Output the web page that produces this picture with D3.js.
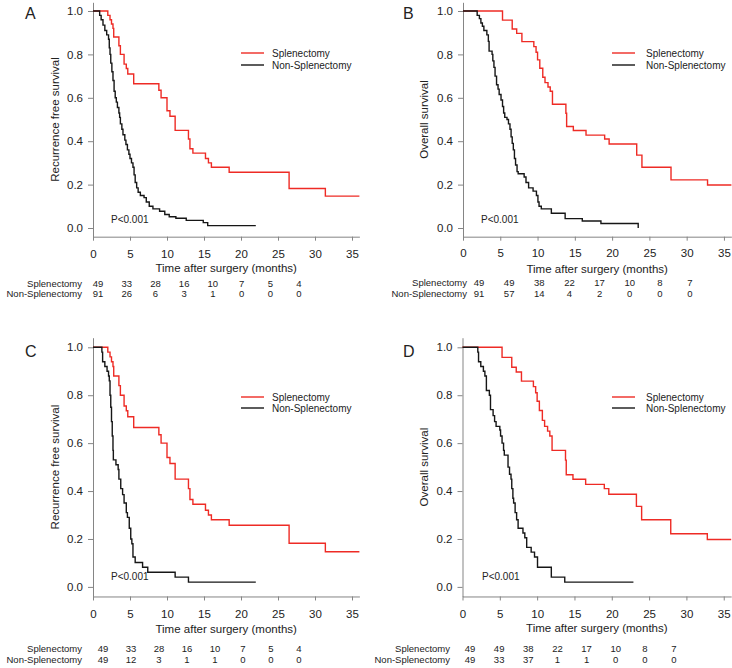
<!DOCTYPE html>
<html>
<head>
<meta charset="utf-8">
<script src="https://cdn.jsdelivr.net/npm/d3@7"></script>
<style>
  body { margin: 0; background: #fff; }
  svg text { font-family: "Liberation Sans", Arial, sans-serif; fill: #222; }
</style>
</head>
<body>
<svg id="chart" width="732" height="668"></svg>
<script>
// ---- data ----
var xTicks = [0, 5, 10, 15, 20, 25, 30, 35];
var yTicks = [0, 0.2, 0.4, 0.6, 0.8, 1.0];
var groups = ["Splenectomy", "Non-Splenectomy"];
var letters = ["A", "B", "C", "D"];
var yTitles = ["Recurrence free survival", "Overall survival", "Recurrence free survival", "Overall survival"];
var xTitle = "Time after surgery (months)";
var pText = "P<0.001";

// recurrence free survival, splenectomy (A and C)
var rfsSplenT = [2.0, 2.3, 2.5, 2.7, 2.8, 3.5, 3.7, 4.2, 4.5, 4.7, 5.5, 8.9, 9.2, 10.0, 10.4, 11.1, 12.9, 13.1, 13.5, 15.2, 15.6, 16.0, 18.4, 26.5, 31.4];
var rfsSplenS = [0.98, 0.96, 0.94, 0.92, 0.88, 0.84, 0.80, 0.755, 0.735, 0.71, 0.665, 0.635, 0.60, 0.54, 0.515, 0.45, 0.41, 0.365, 0.345, 0.32, 0.30, 0.28, 0.257, 0.182, 0.147];
var rfsSplenEnd = 36;

// recurrence free survival, non-splenectomy (A)
var rfsNonAT = [0.9, 1.1, 1.35, 1.6, 1.85, 2.1, 2.2, 2.3, 2.4, 2.55, 2.7, 2.85, 3.0, 3.15, 3.3, 3.5, 3.6, 3.7, 3.9, 4.05, 4.3, 4.45, 4.65, 4.85, 5.0, 5.2, 5.4, 5.55, 5.7, 5.9, 6.1, 6.4, 6.9, 7.2, 7.6, 8.1, 9.0, 9.7, 10.3, 11.2, 12.6, 14.9, 15.5];
var rfsNonAS = [0.98, 0.96, 0.935, 0.91, 0.89, 0.87, 0.83, 0.80, 0.76, 0.72, 0.68, 0.63, 0.60, 0.58, 0.555, 0.53, 0.51, 0.48, 0.455, 0.43, 0.405, 0.385, 0.36, 0.34, 0.32, 0.30, 0.28, 0.245, 0.21, 0.185, 0.165, 0.15, 0.14, 0.12, 0.10, 0.088, 0.077, 0.062, 0.052, 0.045, 0.035, 0.025, 0.011];
var rfsNonAEnd = 22.0;

// overall survival, splenectomy (B and D)
var osSplenT = [5.3, 6.6, 7.2, 7.9, 9.5, 9.8, 10.0, 10.3, 10.7, 11.0, 11.4, 11.7, 12.0, 13.8, 13.9, 14.8, 16.5, 19.0, 19.6, 23.3, 24.0, 27.9, 32.8];
var osSplenS = [0.958, 0.917, 0.897, 0.859, 0.836, 0.81, 0.775, 0.736, 0.695, 0.67, 0.65, 0.63, 0.57, 0.529, 0.468, 0.449, 0.428, 0.41, 0.387, 0.336, 0.28, 0.222, 0.198];
var osSplenEnd = 36;

// overall survival, non-splenectomy (B)
var osNonBT = [1.9, 2.2, 2.4, 2.6, 2.8, 3.2, 3.4, 3.5, 3.9, 4.0, 4.15, 4.3, 4.5, 4.7, 4.85, 5.1, 5.3, 5.45, 5.6, 5.9, 6.1, 6.3, 6.45, 6.6, 6.75, 6.9, 7.05, 7.25, 7.4, 8.2, 8.45, 8.8, 9.4, 9.85, 10.05, 10.2, 10.5, 11.85, 13.7, 16.0, 18.5, 23.5];
var osNonBS = [0.98, 0.965, 0.945, 0.93, 0.91, 0.89, 0.86, 0.815, 0.80, 0.77, 0.74, 0.70, 0.66, 0.64, 0.615, 0.59, 0.56, 0.53, 0.51, 0.50, 0.48, 0.455, 0.42, 0.39, 0.36, 0.32, 0.29, 0.26, 0.25, 0.235, 0.21, 0.185, 0.17, 0.15, 0.12, 0.10, 0.088, 0.068, 0.043, 0.032, 0.021, 0.0];
var osNonBEnd = 23.5;

// recurrence free survival, non-splenectomy (C)
var rfsNonCT = [1.2, 1.3, 1.6, 1.9, 2.1, 2.2, 2.3, 2.4, 2.5, 2.6, 2.7, 2.75, 3.1, 3.4, 3.5, 3.75, 4.0, 4.2, 4.5, 4.65, 4.9, 5.1, 5.25, 5.4, 5.7, 6.7, 7.4, 11.1, 12.9];
var rfsNonCS = [0.98, 0.94, 0.92, 0.90, 0.88, 0.86, 0.80, 0.75, 0.69, 0.63, 0.57, 0.53, 0.51, 0.49, 0.45, 0.41, 0.385, 0.35, 0.31, 0.29, 0.245, 0.20, 0.18, 0.125, 0.102, 0.082, 0.061, 0.041, 0.020];
var rfsNonCEnd = 22.0;

// overall survival, non-splenectomy (D)
var osNonDT = [2.05, 2.15, 2.45, 2.8, 3.0, 3.2, 3.6, 3.75, 4.1, 4.3, 4.5, 5.0, 5.1, 5.3, 5.5, 5.6, 6.1, 6.3, 6.5, 6.6, 6.75, 6.85, 7.05, 7.25, 7.45, 8.1, 8.35, 8.6, 9.2, 9.65, 10.05, 11.9, 13.7];
var osNonDS = [0.98, 0.94, 0.92, 0.90, 0.88, 0.82, 0.80, 0.74, 0.715, 0.69, 0.67, 0.655, 0.63, 0.60, 0.57, 0.55, 0.50, 0.47, 0.45, 0.41, 0.37, 0.35, 0.31, 0.28, 0.245, 0.225, 0.205, 0.165, 0.145, 0.125, 0.082, 0.041, 0.020];
var osNonDEnd = 22.9;

// numbers at risk
var riskA = [[49, 33, 28, 16, 10, 7, 5, 4], [91, 26, 6, 3, 1, 0, 0, 0]];
var riskB = [[49, 49, 38, 22, 17, 10, 8, 7], [91, 57, 14, 4, 2, 0, 0, 0]];
var riskC = [[49, 33, 28, 16, 10, 7, 5, 4], [49, 12, 3, 1, 1, 0, 0, 0]];
var riskD = [[49, 49, 38, 22, 17, 10, 8, 7], [49, 33, 37, 1, 1, 0, 0, 0]];

var red = "#ee2b25", black = "#161616", axisGrey = "#858585";

function km(times, surv, end) {
  var pts = [[0, 1]];
  times.forEach((t, i) => pts.push([t, surv[i]]));
  pts.push([end, surv[surv.length - 1]]);
  return pts;
}

// layout of each panel
var panels = [
  {x0: 93, x1: 359.4, yTop: 11, yZero: 228, titleY: 55, letterX: 25, letterY: 19,
   tickLblY: 21.5, xTitleY: 35, rowY: [286.5, 297], lblRight: 82, colA: 98, colB: 299,
   legY: [53, 65], legX: 241, pY: 223, pX: 111,
   curves: [km(rfsSplenT, rfsSplenS, rfsSplenEnd), km(rfsNonAT, rfsNonAS, rfsNonAEnd)], risk: riskA},
  {x0: 463, x1: 731.4, yTop: 11, yZero: 228, titleY: 424, letterX: 403, letterY: 19,
   tickLblY: 20, xTitleY: 36.5, rowY: [286, 296.5], lblRight: 467, colA: 479, colB: 690,
   legY: [53, 65], legX: 612, pY: 223, pX: 481,
   curves: [km(osSplenT, osSplenS, osSplenEnd), km(osNonBT, osNonBS, osNonBEnd)], risk: riskB},
  {x0: 93, x1: 359.4, yTop: 347.3, yZero: 586.9, titleY: 55, letterX: 25, letterY: 357,
   tickLblY: 21.5, xTitleY: 36.5, rowY: [652, 662.5], lblRight: 82, colA: 103, colB: 299,
   legY: [397, 408], legX: 241, pY: 580, pX: 111,
   curves: [km(rfsSplenT, rfsSplenS, rfsSplenEnd), km(rfsNonCT, rfsNonCS, rfsNonCEnd)], risk: riskC},
  {x0: 462.5, x1: 731.2, yTop: 347.3, yZero: 586.9, titleY: 424, letterX: 403, letterY: 357,
   tickLblY: 21, xTitleY: 36, rowY: [652, 662.5], lblRight: 450, colA: 470, colB: 674,
   legY: [397, 408], legX: 612, pY: 580, pX: 482,
   curves: [km(osSplenT, osSplenS, osSplenEnd), km(osNonDT, osNonDS, osNonDEnd)], risk: riskD}
];

var svg = d3.select("#chart");
svg.append("rect").attr("width", 732).attr("height", 668).attr("fill", "#fff");

panels.forEach((p, pi) => {
  var unit = p.yZero - p.yTop;
  var x = d3.scaleLinear().domain([0, 36]).range([p.x0, p.x1]);
  var y = d3.scaleLinear().domain([-0.04, 1.04]).range([p.yZero + 0.04 * unit, p.yTop - 0.04 * unit]);
  var g = svg.append("g");
  var axisY = y(-0.04);

  // x axis
  var xa = g.append("g")
    .attr("transform", "translate(0," + axisY + ")")
    .call(d3.axisBottom(x).tickValues(xTicks).tickSize(4).tickSizeOuter(0).tickPadding(p.tickLblY - 12));
  // y axis
  var ya = g.append("g")
    .attr("transform", "translate(" + p.x0 + ",0)")
    .call(d3.axisLeft(y).tickValues(yTicks).tickSize(5).tickSizeOuter(0).tickPadding(5).tickFormat(d3.format(".1f")));
  [xa, ya].forEach(a => {
    a.select(".domain").attr("stroke", axisGrey);
    a.selectAll(".tick line").attr("stroke", axisGrey);
    a.selectAll(".tick text").attr("fill", "#222").style("font-size", "11.5px")
      .style("font-family", "'Liberation Sans', Arial, sans-serif");
  });

  // titles
  g.append("text").attr("x", (p.x0 + p.x1) / 2).attr("y", axisY + p.xTitleY)
    .attr("text-anchor", "middle").style("font-size", "11.5px").text(xTitle);
  g.append("text").attr("transform", "translate(" + p.titleY + "," + (p.yTop + p.yZero) / 2 + ") rotate(-90)")
    .attr("text-anchor", "middle").attr("dy", "0.35em").style("font-size", "11.5px").text(yTitles[pi]);
  g.append("text").attr("x", p.letterX).attr("y", p.letterY).style("font-size", "16px").text(letters[pi]);

  // curves
  var line = d3.line().x(d => x(d[0])).y(d => y(d[1])).curve(d3.curveStepAfter);
  p.curves.forEach((c, ci) => {
    g.append("path").datum(c).attr("d", line).attr("fill", "none")
      .attr("stroke", ci === 0 ? red : black).attr("stroke-width", 1.4);
  });

  // legend
  groups.forEach((name, gi) => {
    g.append("line").attr("x1", p.legX).attr("x2", p.legX + 23)
      .attr("y1", p.legY[gi]).attr("y2", p.legY[gi])
      .attr("stroke", gi === 0 ? red : black).attr("stroke-width", 1.4);
    g.append("text").attr("x", p.legX + (pi % 2 ? 34 : 31)).attr("y", p.legY[gi] + 3.5)
      .style("font-size", "10px").text(name);
  });

  g.append("text").attr("x", p.pX).attr("y", p.pY).style("font-size", "10px").text(pText);

  // numbers at risk
  var col = d3.scaleLinear().domain([0, 7]).range([p.colA, p.colB]);
  groups.forEach((name, gi) => {
    g.append("text").attr("x", p.lblRight).attr("y", p.rowY[gi]).attr("text-anchor", "end")
      .style("font-size", "9.5px").text(name);
    g.selectAll(null).data(p.risk[gi]).enter().append("text")
      .attr("x", (d, i) => col(i)).attr("y", p.rowY[gi]).attr("text-anchor", "middle")
      .style("font-size", "9.5px").text(d => d);
  });
});
</script>
</body>
</html>
